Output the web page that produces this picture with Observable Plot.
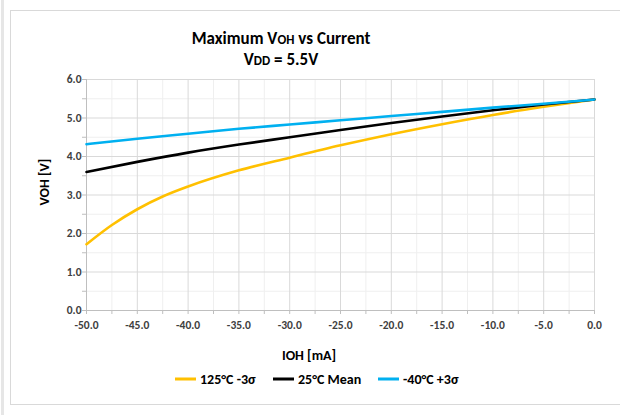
<!DOCTYPE html>
<html>
<head>
<meta charset="utf-8">
<script src="https://cdn.jsdelivr.net/npm/d3@7"></script>
<script src="https://cdn.jsdelivr.net/npm/@observablehq/plot@0.6"></script>
<style>
  html, body { margin: 0; padding: 0; background: #fff; }
  #wrap { position: relative; width: 620px; height: 416px; overflow: hidden; font-family: Carlito, Lato, "Open Sans", sans-serif; color: #000; }
  #stripe { position: absolute; left: 1px; top: 0; width: 3px; height: 415px; background: #e6e6e6; }
  #frame { position: absolute; left: 10px; top: 10px; width: 640px; height: 393px; border-left: 1px solid #d9d9d9; border-top: 1px solid #d9d9d9; border-bottom: 1px solid #d9d9d9; }
  .title { position: absolute; left: 131px; width: 300px; text-align: center; font-weight: bold; font-size: 17px; white-space: nowrap; }
  .title small { font-size: 13px; }
  #chart { position: absolute; left: 0; top: 70px; }
  #ylab { position: absolute; left: 44px; top: 182px; transform: translate(-50%, -50%) rotate(-90deg); font-weight: bold; font-size: 14px; white-space: nowrap; color: #000; }
  #xlab { position: absolute; left: 309px; top: 355px; transform: translate(-50%, -50%); font-weight: bold; font-size: 14px; white-space: nowrap; }
  #legend { position: absolute; top: 379px; left: 0; width: 620px; font-weight: bold; font-size: 14px; }
  .item { position: absolute; top: 0; transform: translateY(-50%); white-space: nowrap; display: flex; align-items: center; }
  .sw { display: inline-block; width: 21px; height: 3px; margin-right: 4px; }
</style>
</head>
<body>
<div id="wrap">
  <div id="stripe"></div>
  <div id="frame"></div>
  <div class="title" style="top:28px">Maximum V<small>OH</small> vs Current</div>
  <div class="title" style="top:49px">V<small>DD</small> = 5.5V</div>
  <div id="chart"></div>
  <div id="ylab">VOH [V]</div>
  <div id="xlab">IOH [mA]</div>
  <div id="legend"></div>
</div>
<script>
// ---- data ----
const seriesNames = ["125°C -3σ", "25°C Mean", "-40°C +3σ"];
const seriesColors = ["#FFC000", "#000000", "#00B0F0"];

const currentHot = [-50, -47.5, -45, -42.5, -40, -35, -30, -25, -20, -15, -10, -5, 0];
const vohHot     = [1.72, 2.22, 2.63, 2.96, 3.22, 3.64, 3.97, 4.29, 4.58, 4.84, 5.08, 5.29, 5.48];

const current    = [-50, -45, -40, -35, -30, -25, -20, -15, -10, -5, 0];
const vohMean    = [3.60, 3.86, 4.10, 4.31, 4.50, 4.69, 4.87, 5.04, 5.20, 5.35, 5.48];
const vohCold    = [4.32, 4.46, 4.59, 4.72, 4.83, 4.94, 5.05, 5.16, 5.27, 5.37, 5.48];

const xTicks      = [-50, -45, -40, -35, -30, -25, -20, -15, -10, -5, 0];
const xMinorTicks = [-47.5, -42.5, -37.5, -32.5, -27.5, -22.5, -17.5, -12.5, -7.5, -2.5];
const yTicks      = [0, 1, 2, 3, 4, 5, 6];
const yMinorTicks = [0.5, 1.5, 2.5, 3.5, 4.5, 5.5];

// ---- table ----
const rows = [
  ...currentHot.map((c, i) => ({series: seriesNames[0], current: c, voh: vohHot[i]})),
  ...current.map((c, i) => ({series: seriesNames[1], current: c, voh: vohMean[i]})),
  ...current.map((c, i) => ({series: seriesNames[2], current: c, voh: vohCold[i]}))
];

const chart = Plot.plot({
  width: 620,
  height: 270,
  marginLeft: 86,
  marginRight: 26,
  marginTop: 9,
  marginBottom: 30,
  style: {fontFamily: "Carlito, Lato, 'Open Sans', sans-serif", fontWeight: "bold", fontSize: "11.5px", color: "#404040", background: "transparent"},
  x: {domain: [-50, 0]},
  y: {domain: [0, 6]},
  color: {domain: seriesNames, range: seriesColors},
  marks: [
    Plot.gridX(xMinorTicks, {stroke: "#efefef", strokeOpacity: 1}),
    Plot.gridY(yMinorTicks, {stroke: "#efefef", strokeOpacity: 1}),
    Plot.gridX(xTicks, {stroke: "#d9d9d9", strokeOpacity: 1}),
    Plot.gridY(yTicks, {stroke: "#d9d9d9", strokeOpacity: 1}),
    Plot.axisX([...xTicks, ...xMinorTicks], {tickSize: 4, stroke: "#bfbfbf", tickFormat: () => "", label: null}),
    Plot.axisY([...yTicks, ...yMinorTicks], {tickSize: 4, stroke: "#bfbfbf", tickFormat: () => "", label: null}),
    Plot.axisX(xTicks, {tickSize: 0, tickPadding: 10, tickFormat: d => d.toFixed(1), label: null, fill: "#404040"}),
    Plot.axisY(yTicks, {tickSize: 0, tickPadding: 5, tickFormat: d => d.toFixed(1), label: null, fill: "#404040"}),
    Plot.ruleY([0], {stroke: "#bfbfbf"}),
    Plot.ruleX([-50], {stroke: "#bfbfbf"}),
    Plot.line(rows, {x: "current", y: "voh", z: "series", stroke: "series", strokeWidth: 2.6, curve: "monotone-x"})
  ]
});
document.getElementById("chart").appendChild(chart);

// ---- legend ----
const legend = document.getElementById("legend");
const legendX = [175, 273, 378];
seriesNames.forEach((name, i) => {
  const it = document.createElement("div");
  it.className = "item";
  it.style.left = legendX[i] + "px";
  const sw = document.createElement("span");
  sw.className = "sw";
  sw.style.background = seriesColors[i];
  it.appendChild(sw);
  it.appendChild(document.createTextNode(name));
  legend.appendChild(it);
});
</script>
</body>
</html>
